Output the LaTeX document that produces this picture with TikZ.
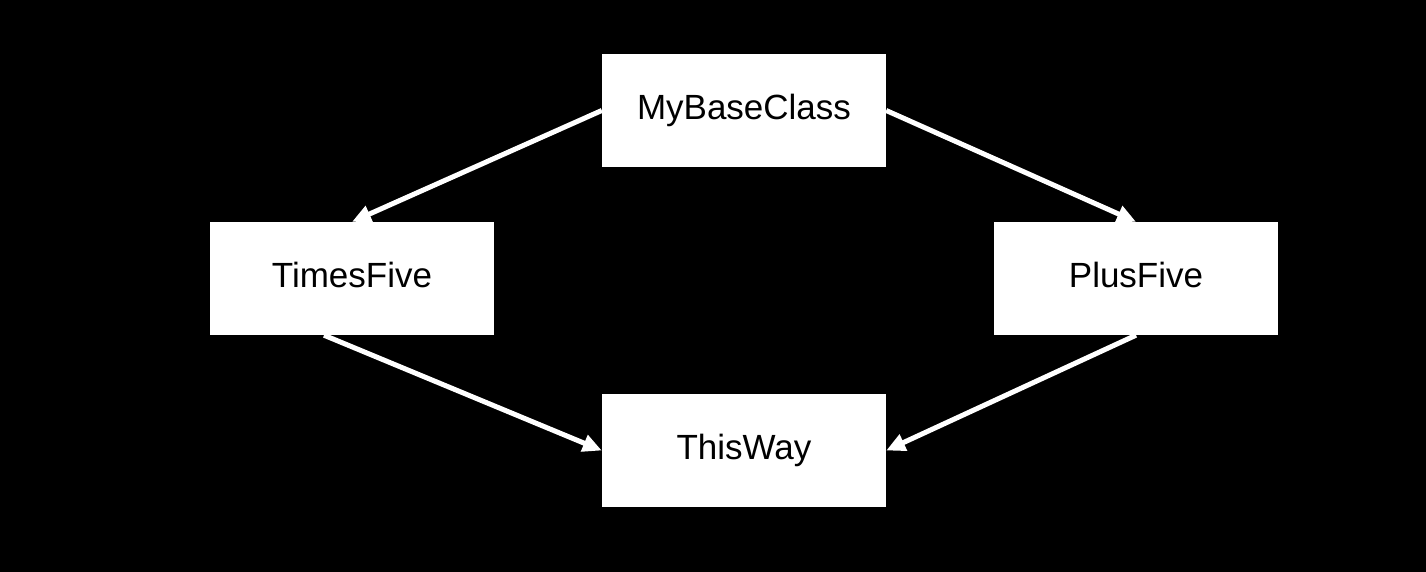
\documentclass[tikz,border=0pt]{standalone}
\usepackage{fontspec}
\setmainfont{Liberation Sans}
\usetikzlibrary{arrows.meta}
\begin{document}
\begin{tikzpicture}[
			x=1pt,y=-1pt,
			cls/.style={rectangle,fill=white,text=black,minimum width=284pt,minimum height=113pt,inner sep=0pt,text height=26pt,text depth=8pt,font=\fontsize{35}{42}\selectfont},
			inherit/.style={-{Triangle[length=19pt,width=17pt]},draw=white,line width=5pt}]
			\fill[black] (0,0) rectangle (1426,572);
			\node[cls] (base) at (744,110.5) {MyBaseClass};
			\node[cls] (times) at (352,278.5) {TimesFive};
			\node[cls] (plus) at (1136,278.5) {PlusFive};
			\node[cls] (this) at (744,450.5) {ThisWay};
			\draw[inherit] (base.west) -- (times.north);
			\draw[inherit] (base.east) -- (plus.north);
			\draw[inherit] ([xshift=-28pt]times.south) -- (this.west);
			\draw[inherit] (plus.south) -- (this.east);
		\end{tikzpicture}
\end{document}
